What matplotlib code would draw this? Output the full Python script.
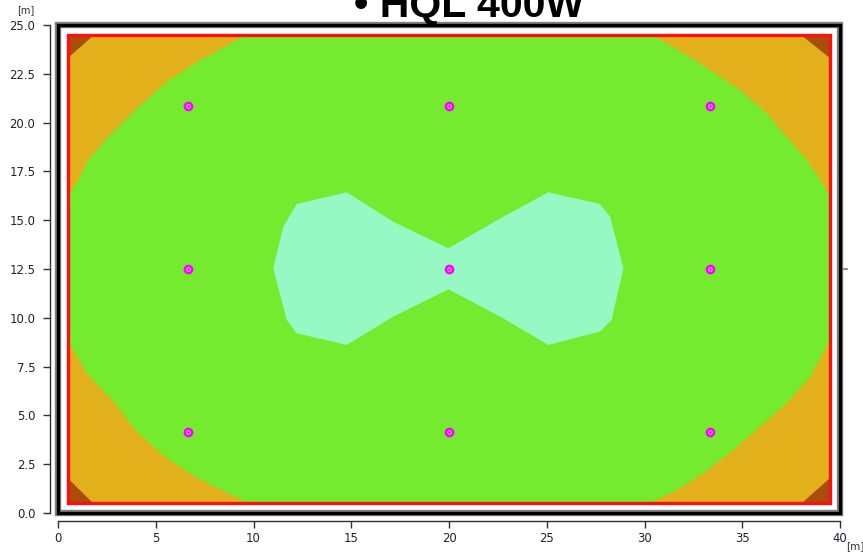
import matplotlib
matplotlib.use("Agg")
import matplotlib.pyplot as plt
from matplotlib.patches import Polygon, Rectangle

# ---- data (metres) ----
room_w, room_h = 40.0, 25.0
calc_x0, calc_x1, calc_y0, calc_y1 = 0.5, 39.5, 0.5, 24.5

lum_x = [6.67, 20.0, 33.33, 6.67, 20.0, 33.33, 6.67, 20.0, 33.33]
lum_y = [20.83, 20.83, 20.83, 12.5, 12.5, 12.5, 4.17, 4.17, 4.17]

green_x = [9.65, 30.37, 32.84, 34.88, 36.25, 37.27, 38.3, 38.98, 39.5,
           39.5, 38.47, 37.27, 35.9, 34.54, 33.0, 31.65, 30.28,
           9.74, 8.37, 7.0, 5.47, 3.94, 2.92, 1.47, 0.5,
           0.5, 1.04, 1.55, 2.57, 3.94, 5.47, 7.0, 8.37]
green_y = [24.5, 24.5, 23.04, 21.67, 20.48, 19.28, 18.08, 17.06, 16.2,
           8.86, 6.98, 5.62, 4.42, 3.23, 2.03, 1.18, 0.5,
           0.5, 1.18, 1.86, 2.88, 4.25, 5.62, 7.16, 8.86,
           16.2, 17.06, 18.08, 19.28, 20.65, 22.0, 23.04, 23.8]

mint_x = [11.01, 11.53, 12.21, 14.77, 17.15, 19.97, 22.78, 25.08, 27.72, 28.24,
          28.92, 28.32, 27.72, 25.08, 22.78, 19.97, 17.15, 14.77, 12.21, 11.7]
mint_y = [12.54, 14.67, 15.83, 16.43, 14.92, 13.56, 15.18, 16.43, 15.83, 15.18,
          12.54, 9.89, 9.29, 8.61, 9.97, 11.46, 10.06, 8.61, 9.21, 9.89]

brown_tl_x, brown_tl_y = [0.5, 1.85, 0.5], [24.5, 24.5, 23.3]
brown_bl_x, brown_bl_y = [0.5, 1.8, 0.5], [0.5, 0.5, 1.78]
brown_tr_x, brown_tr_y = [38.0, 39.5, 39.5], [24.5, 24.5, 23.3]
brown_br_x, brown_br_y = [38.04, 39.5, 39.5], [0.5, 0.5, 1.78]

x_ticks = [0, 5, 10, 15, 20, 25, 30, 35, 40]
y_ticks = [0.0, 2.5, 5.0, 7.5, 10.0, 12.5, 15.0, 17.5, 20.0, 22.5, 25.0]
title = "• HQL 400W"

# ---- colours ----
c_orange = "#E2B01A"
c_green = "#74EB2E"
c_mint = "#96F9C3"
c_brown = "#A84E0A"

fig = plt.figure(figsize=(8.63, 5.53), dpi=100)
ax = fig.add_axes([58 / 863, 40 / 553, 782 / 863, 488 / 553])
ax.set_xlim(0, room_w)
ax.set_ylim(0, room_h)
ax.set_facecolor("white")

# filled regions
ax.add_patch(Rectangle((calc_x0, calc_y0), calc_x1 - calc_x0, calc_y1 - calc_y0,
                       facecolor=c_orange, edgecolor="none", zorder=1))
ax.add_patch(Polygon(list(zip(green_x, green_y)), closed=True,
                     facecolor=c_green, edgecolor="none", zorder=2))
ax.add_patch(Polygon(list(zip(mint_x, mint_y)), closed=True,
                     facecolor=c_mint, edgecolor="none", zorder=3))
for bx, by in [(brown_tl_x, brown_tl_y), (brown_bl_x, brown_bl_y),
               (brown_tr_x, brown_tr_y), (brown_br_x, brown_br_y)]:
    ax.add_patch(Polygon(list(zip(bx, by)), closed=True,
                         facecolor=c_brown, edgecolor="none", zorder=4))

# calculation area outline
ax.add_patch(Rectangle((calc_x0, calc_y0), calc_x1 - calc_x0, calc_y1 - calc_y0,
                       facecolor="none", edgecolor="#FF1010", lw=2.4, zorder=5))

# room border (gray shadow + black)
ax.add_patch(Rectangle((0, 0), room_w, room_h, facecolor="none",
                       edgecolor="#808080", lw=4.6, zorder=6, clip_on=False))
ax.add_patch(Rectangle((0, 0), room_w, room_h, facecolor="none",
                       edgecolor="black", lw=2.4, zorder=7, clip_on=False))

# luminaires
ax.plot(lum_x, lum_y, linestyle="none", marker="o", ms=5.2, mfc="#FF80FF",
        mec="#FF00FF", mew=1.8, zorder=8)
ax.plot(lum_x, lum_y, linestyle="none", marker="o", ms=1.3, mfc="#602060",
        mec="none", zorder=9)

# small mark at right
ax.plot([40.2, 40.35], [12.5, 12.5], color="#707070", lw=1.2, clip_on=False)

# axes styling
for s in ["top", "right"]:
    ax.spines[s].set_visible(False)
off = 8 * 72 / 100
ax.spines["left"].set_position(("outward", off))
ax.spines["bottom"].set_position(("outward", off))
ax.spines["left"].set_bounds(0, room_h)
ax.spines["bottom"].set_bounds(0, room_w)
for s in ["left", "bottom"]:
    ax.spines[s].set_color("#303030")
    ax.spines[s].set_linewidth(1.0)

ax.set_xticks(x_ticks)
ax.set_xticklabels([str(v) for v in x_ticks])
ax.set_yticks(y_ticks)
ax.set_yticklabels([f"{v:.1f}" for v in y_ticks])
ax.tick_params(axis="both", direction="out", length=5, width=1.0,
               color="#303030", labelsize=8.4, labelcolor="#202030")
ax.tick_params(axis="y", pad=5.5)
ax.tick_params(axis="x", pad=3)

fig.text(26 / 863, 1 - 10 / 553, "[m]", fontsize=7, color="#303030",
         ha="center", va="center")
fig.text(855 / 863, 1 - 546 / 553, "[m]", fontsize=7.5, color="#303030",
         ha="center", va="center")

fig.text(469 / 863, 1 - 17 / 553, title, fontsize=29.5, fontweight="bold",
         family=["Liberation Sans", "DejaVu Sans"], ha="center", va="baseline")

fig.savefig("out.png", dpi=100)
